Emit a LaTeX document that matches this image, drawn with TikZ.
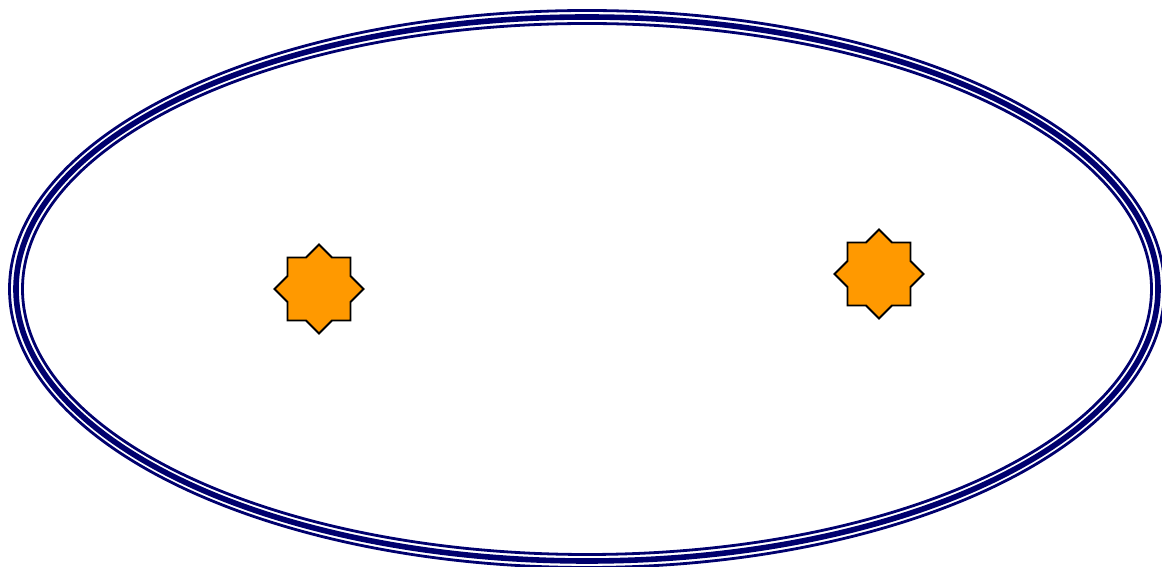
\documentclass[tikz,border=0pt]{standalone}
\usetikzlibrary{shapes.geometric}
\definecolor{ringblue}{RGB}{0,0,110}
\definecolor{starorange}{RGB}{255,153,0}
\tikzset{
  ringthin/.style={draw=ringblue, line width=2.8pt},
  ringthick/.style={draw=ringblue, line width=5.6pt},
  starshape/.style={star, star points=8, star point ratio=1.3066, minimum size=89pt,
    inner sep=0pt, fill=starorange, draw=black, line width=1.9pt, line join=miter}
}
\begin{document}
\begin{tikzpicture}[x=1pt,y=1pt]
\useasboundingbox (0,0) rectangle (1162,567);
\coordinate (c) at (587,278);
\draw[ringthin] (c) ellipse [x radius=577.5, y radius=278.5];
\draw[ringthick] (c) ellipse [x radius=571, y radius=272];
\draw[ringthin] (c) ellipse [x radius=564.5, y radius=265.5];
\node[starshape] (s1) at (319,278) {};
\node[starshape] (s2) at (879,293) {};
\end{tikzpicture}
\end{document}
